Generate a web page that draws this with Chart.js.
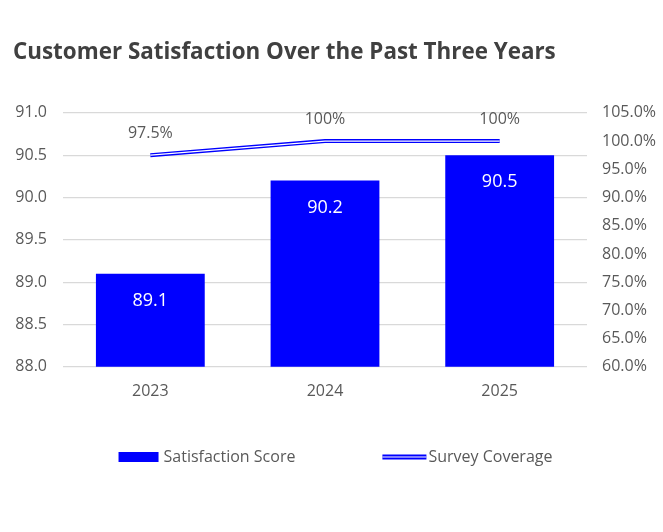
<!DOCTYPE html>
<html>
<head>
<meta charset="utf-8">
<script src="https://cdn.jsdelivr.net/npm/chart.js@4.4.1/dist/chart.umd.min.js"></script>
<style>
  html, body { margin: 0; padding: 0; background: #fff; }
  #wrap { width: 663px; height: 532px; }
</style>
</head>
<body>
<div id="wrap"><canvas id="chart" width="663" height="532"></canvas></div>
<script>
// chart data
var years = ['2023', '2024', '2025'];
var scores = [89.1, 90.2, 90.5];
var coverage = [97.5, 100, 100];
var coverageLabels = ['97.5%', '100%', '100%'];
var seriesNames = ['Satisfaction Score', 'Survey Coverage'];

var blue = '#0000FF';
var textGray = '#595959';
var fontFamily = '"Segoe UI", "Open Sans", sans-serif';

// white centre stroke for the double line, value labels, legend
var extras = {
  id: 'extras',
  afterDatasetsDraw: function(chart) {
    var ctx = chart.ctx;
    var lineMeta = chart.getDatasetMeta(1);
    ctx.save();
    ctx.strokeStyle = '#fff';
    ctx.lineWidth = 1.2;
    ctx.beginPath();
    lineMeta.data.forEach(function(p, i) {
      if (i === 0) ctx.moveTo(p.x, p.y); else ctx.lineTo(p.x, p.y);
    });
    ctx.stroke();

    ctx.font = '16px ' + fontFamily;
    ctx.textAlign = 'center';
    ctx.textBaseline = 'middle';
    ctx.fillStyle = textGray;
    lineMeta.data.forEach(function(p, i) {
      ctx.fillText(coverageLabels[i], p.x, p.y - 22);
    });

    var barMeta = chart.getDatasetMeta(0);
    ctx.font = '18px ' + fontFamily;
    ctx.fillStyle = '#fff';
    barMeta.data.forEach(function(b, i) {
      ctx.fillText(scores[i].toFixed(1), b.x, b.y + 27);
    });
    ctx.restore();
  },
  afterDraw: function(chart) {
    var ctx = chart.ctx;
    ctx.save();
    ctx.font = '16px ' + fontFamily;
    ctx.textBaseline = 'middle';
    ctx.textAlign = 'left';
    var w1 = ctx.measureText(seriesNames[0]).width;
    var w2 = ctx.measureText(seriesNames[1]).width;
    var gap = 87;
    var total = 40 + 5 + w1 + gap + 44 + 2 + w2;
    var x = chart.width / 2 + 4 - total / 2;
    var y = 457;
    // bar swatch
    ctx.fillStyle = blue;
    ctx.fillRect(x, y - 5, 40, 10);
    ctx.fillStyle = textGray;
    ctx.fillText(seriesNames[0], x + 45, y);
    // double line swatch
    x += 45 + w1 + gap;
    ctx.fillStyle = blue;
    ctx.fillRect(x, y - 2.5, 44, 5);
    ctx.fillStyle = '#fff';
    ctx.fillRect(x, y - 0.5, 44, 1);
    ctx.fillStyle = textGray;
    ctx.fillText(seriesNames[1], x + 46, y);
    ctx.restore();
  }
};

new Chart(document.getElementById('chart'), {
  type: 'bar',
  data: {
    labels: years,
    datasets: [
      {
        type: 'bar',
        label: seriesNames[0],
        data: scores,
        backgroundColor: blue,
        borderWidth: 0,
        barPercentage: 0.623,
        categoryPercentage: 1,
        yAxisID: 'y',
        order: 2
      },
      {
        type: 'line',
        label: seriesNames[1],
        data: coverage,
        borderColor: blue,
        borderWidth: 4,
        pointRadius: 0,
        tension: 0,
        fill: false,
        yAxisID: 'y2',
        order: 1
      }
    ]
  },
  options: {
    responsive: false,
    animation: false,
    layout: { padding: { left: 13, right: 0, top: 0, bottom: 124 } },
    plugins: {
      title: {
        display: true,
        text: 'Customer Satisfaction Over the Past Three Years',
        align: 'start',
        color: '#404040',
        font: { family: fontFamily, size: 22.4, weight: 'bold' },
        padding: { top: 39, bottom: 47 }
      },
      legend: { display: false },
      tooltip: { enabled: false }
    },
    scales: {
      x: {
        grid: { display: false },
        border: { display: false },
        ticks: { color: textGray, padding: 7, font: { family: fontFamily, size: 16 } }
      },
      y: {
        position: 'left',
        min: 88,
        max: 91,
        grid: { color: '#d9d9d9', lineWidth: 1.3, drawTicks: false },
        border: { display: false },
        ticks: {
          stepSize: 0.5,
          padding: 16,
          color: textGray,
          font: { family: fontFamily, size: 16 },
          callback: function(v) { return v.toFixed(1); }
        },
        afterFit: function(s) { s.width = 50; }
      },
      y2: {
        position: 'right',
        min: 60,
        max: 105,
        grid: { display: false },
        border: { display: false },
        ticks: {
          stepSize: 5,
          padding: 7,
          color: textGray,
          font: { family: fontFamily, size: 16 },
          callback: function(v) { return v.toFixed(1) + '%'; }
        },
        afterFit: function(s) { s.width = 76; }
      }
    }
  },
  plugins: [extras]
});
</script>
</body>
</html>
